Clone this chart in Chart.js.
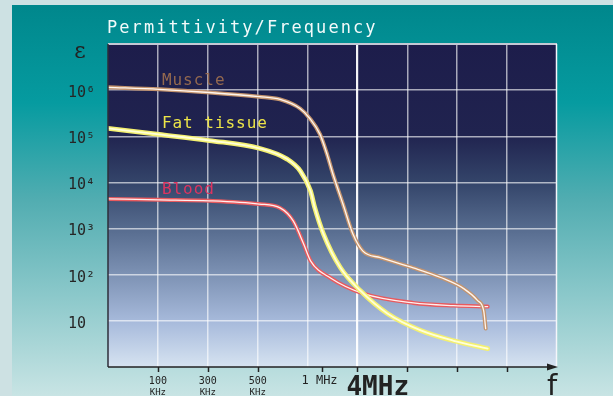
<!DOCTYPE html>
<html><head><meta charset="utf-8">
<script src="https://cdn.jsdelivr.net/npm/chart.js@4/dist/chart.umd.min.js"></script>
<style>html,body{margin:0;padding:0;background:#cde1e3;}#wrap{width:613px;height:396px;position:relative;}</style>
</head><body><div id="wrap"><canvas id="c"></canvas></div>
<script>
// ---- data ----
const title = 'Permittivity/Frequency';
const seriesNames = ['Muscle', 'Fat tissue', 'Blood'];
const yTickValues = [10, 100, 1000, 10000, 100000, 1000000];
const yTickLabels = ['10', '10²', '10³', '10⁴', '10⁵', '10⁶'];
const xGridPos = [1, 2, 3, 4, 5, 6, 7, 8];
const xTickPos = [1, 2, 3, 4.28, 5, 6, 7, 8];
const xTickLabels = [['100', 'KHz'], ['300', 'KHz'], ['500', 'KHz'], ['1 MHz'], ['4MHz'], [], [], []];

// positions along the (non-linear) frequency axis, in axis divisions
const musclePos = [0, 1.02, 2.03, 3.03, 3.45, 3.85, 4.05, 4.25, 4.39, 4.51, 4.71, 4.91, 5.11, 5.46, 6.12, 6.67, 7.13, 7.41, 7.53, 7.57];
const muscleEps = [1.15e6, 1.04e6, 8.9e5, 7.2e5, 6.3e5, 4.0e5, 2.4e5, 1.1e5, 4.1e4, 1.5e4, 3400, 760, 324, 234, 141, 87, 50, 27.5, 16.6, 6.8];

const fatPos = [0, 1.02, 2.03, 3.03, 3.59, 3.86, 4.06, 4.14, 4.32, 4.66, 5.06, 5.60, 6.27, 6.93, 7.61];
const fatEps = [1.48e5, 1.10e5, 8.1e4, 5.5e4, 3.2e4, 1.74e4, 6500, 2950, 760, 141, 45, 14.5, 6.2, 3.7, 2.5];

const bloodPos = [0, 1.02, 2.03, 3.03, 3.45, 3.71, 3.92, 4.06, 4.46, 5.12, 6.12, 6.93, 7.61];
const bloodEps = [4400, 4200, 4000, 3400, 2800, 1480, 470, 200, 85, 39, 24.5, 21.4, 20.4];

// ---- helpers ----
const pts = (xs, ys) => xs.map((x, i) => ({x: x, y: ys[i]}));
const MONO = '"DejaVu Sans Mono", monospace';

function spaced(ctx, text, x, y, adv) {
  for (let i = 0; i < text.length; i++) ctx.fillText(text[i], x + i * adv, y);
}

const bgPlugin = {
  id: 'bg',
  beforeDraw(chart) {
    const {ctx, chartArea: a, width, height} = chart;
    ctx.save();
    ctx.fillStyle = '#cde1e3';
    ctx.fillRect(0, 0, width, height);
    const g = ctx.createLinearGradient(0, 5, 0, height);
    g.addColorStop(0, '#00878c');
    g.addColorStop(0.25, '#069ba0');
    g.addColorStop(0.5, '#52adb1');
    g.addColorStop(0.75, '#8dc9cb');
    g.addColorStop(1, '#c8e4e4');
    ctx.fillStyle = g;
    ctx.fillRect(12, 5, width - 12, height - 5);
    const p = ctx.createLinearGradient(0, a.top, 0, a.bottom);
    p.addColorStop(0, '#1d1d4b');
    p.addColorStop(0.28, '#20234f');
    p.addColorStop(0.43, '#34456a');
    p.addColorStop(0.57, '#566b8e');
    p.addColorStop(0.71, '#7c91b3');
    p.addColorStop(0.86, '#a7badb');
    p.addColorStop(1, '#d6e3f1');
    ctx.fillStyle = p;
    ctx.fillRect(a.left, a.top, a.right - a.left, a.bottom - a.top);
    ctx.restore();
  },
  afterDraw(chart) {
    const {ctx, chartArea: a} = chart;
    const xs = chart.scales.x;
    ctx.save();
    // frame
    ctx.lineWidth = 2;
    ctx.strokeStyle = '#c4c8d4';
    ctx.beginPath(); ctx.moveTo(a.left, a.top); ctx.lineTo(a.right, a.top); ctx.stroke();
    ctx.strokeStyle = '#f4f6fa';
    ctx.lineWidth = 1.5;
    ctx.beginPath(); ctx.moveTo(a.right - 0.5, a.top); ctx.lineTo(a.right - 0.5, a.bottom); ctx.stroke();
    ctx.strokeStyle = '#2e2e3a';
    ctx.lineWidth = 1.5;
    ctx.beginPath(); ctx.moveTo(a.left, a.top); ctx.lineTo(a.left, a.bottom); ctx.stroke();
    // x axis with arrow
    ctx.strokeStyle = '#222';
    ctx.beginPath(); ctx.moveTo(a.left, a.bottom); ctx.lineTo(a.right - 8, a.bottom); ctx.stroke();
    ctx.fillStyle = '#222';
    ctx.beginPath();
    ctx.moveTo(a.right + 1, a.bottom);
    ctx.lineTo(a.right - 10, a.bottom - 3.5);
    ctx.lineTo(a.right - 10, a.bottom + 3.5);
    ctx.closePath(); ctx.fill();
    // tick marks
    ctx.lineWidth = 1.5;
    xTickPos.forEach(v => {
      const px = Math.round(xs.getPixelForValue(v)) + 0.5;
      ctx.beginPath(); ctx.moveTo(px, a.bottom); ctx.lineTo(px, a.bottom + 5); ctx.stroke();
    });
    // x tick labels
    ctx.fillStyle = '#222';
    xTickPos.forEach((v, i) => {
      const lab = xTickLabels[i];
      const px = xs.getPixelForValue(v);
      if (lab.length === 2) {
        ctx.font = '10px ' + MONO;
        ctx.textAlign = 'center';
        ctx.textBaseline = 'alphabetic';
        ctx.fillText(lab[0], px, a.bottom + 17);
        ctx.font = '9px ' + MONO;
        ctx.fillText(lab[1], px, a.bottom + 28);
      } else if (lab.length === 1 && lab[0] === '4MHz') {
        ctx.font = 'bold 26px ' + MONO;
        ctx.textAlign = 'left';
        ctx.fillText(lab[0], px - 11, a.bottom + 28);
      } else if (lab.length === 1) {
        ctx.font = '12px ' + MONO;
        ctx.textAlign = 'center';
        ctx.fillText(lab[0], px - 2, a.bottom + 17);
      }
    });
    // axis symbols
    ctx.textAlign = 'center';
    ctx.font = '29px "DejaVu Sans", sans-serif';
    ctx.fillText('f', a.right - 5, a.bottom + 28);
    ctx.font = '22px "DejaVu Serif", serif';
    ctx.fillText('ε', a.left - 28, a.top + 14);
    // title
    ctx.textAlign = 'left';
    ctx.fillStyle = '#f2fafa';
    ctx.font = '17px ' + MONO;
    spaced(ctx, title, a.left - 1, a.top - 11, 12.3);
    // series labels
    const labCols = ['#93684f', '#ece448', '#dc3460'];
    const labY = [85, 128, 194];
    ctx.font = '16px ' + MONO;
    seriesNames.forEach((s, i) => {
      ctx.fillStyle = labCols[i];
      spaced(ctx, s, xs.getPixelForValue(1.08), labY[i], 10.6);
    });
    ctx.restore();
  }
};

function series(data, color, width, order) {
  return {data: data, borderColor: color, borderWidth: width, pointRadius: 0,
          cubicInterpolationMode: 'monotone',
          fill: false, order: order, borderCapStyle: 'round', borderJoinStyle: 'round'};
}

new Chart(document.getElementById('c'), {
  type: 'line',
  data: {
    datasets: [
      series(pts(musclePos, muscleEps), '#fff6ee', 1.3, 0),
      series(pts(musclePos, muscleEps), '#c4946e', 4, 1),
      series(pts(fatPos, fatEps), '#ffffd8', 1.8, 2),
      series(pts(fatPos, fatEps), '#f4f070', 4.8, 3),
      series(pts(bloodPos, bloodEps), '#fff0f0', 1.3, 4),
      series(pts(bloodPos, bloodEps), '#e85a5e', 4, 5)
    ]
  },
  options: {
    responsive: true,
    maintainAspectRatio: false,
    devicePixelRatio: 1,
    animation: false,
    layout: {padding: {left: 68, top: 44, right: 56, bottom: 29}},
    plugins: {legend: {display: false}, tooltip: {enabled: false}},
    scales: {
      x: {
        type: 'linear', min: 0, max: 9,
        afterBuildTicks: s => { s.ticks = xGridPos.map(v => ({value: v})); },
        afterFit: s => { s.height = 0; },
        ticks: {display: false},
        border: {display: false},
        grid: {
          drawTicks: false,
          color: c => (c.tick && c.tick.value === 5) ? 'rgba(255,255,255,0.95)' : 'rgba(255,255,255,0.62)',
          lineWidth: c => (c.tick && c.tick.value === 5) ? 2.2 : 1.5
        }
      },
      y: {
        type: 'logarithmic', min: 1, max: 1e7, position: 'left',
        afterBuildTicks: s => { s.ticks = yTickValues.map(v => ({value: v})); },
        afterFit: s => { s.width = 40; },
        border: {display: false},
        grid: {drawTicks: false, color: 'rgba(255,255,255,0.62)', lineWidth: 1.5},
        ticks: {
          crossAlign: 'far', padding: 10, labelOffset: 3, color: '#262626',
          font: {family: 'DejaVu Sans Mono', size: 15},
          callback: (v) => { const i = yTickValues.indexOf(v); return i >= 0 ? yTickLabels[i] : ''; }
        }
      }
    }
  },
  plugins: [bgPlugin]
});
</script></body></html>
